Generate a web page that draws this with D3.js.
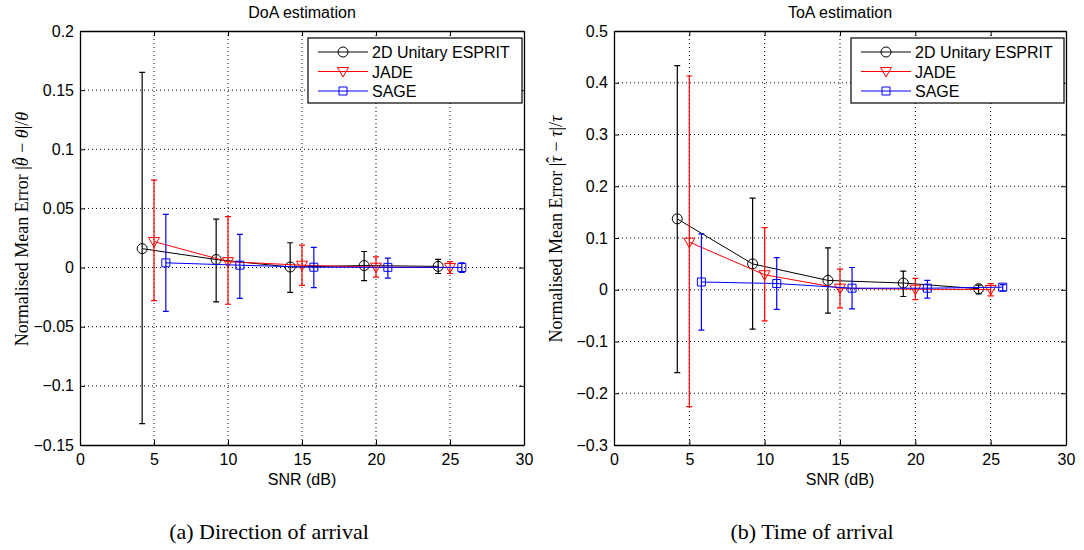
<!DOCTYPE html>
<html>
<head>
<meta charset="utf-8">
<script src="https://cdn.jsdelivr.net/npm/d3@7"></script>
<style>
  body { margin: 0; background: #fff; }
  text { font-family: "Liberation Sans", Arial, sans-serif; }
  .serif { font-family: "Liberation Serif", "DejaVu Serif", serif; }
</style>
</head>
<body>
<div id="chart"></div>
<script>
// series names and colours
const seriesNames = ["2D Unitary ESPRIT", "JADE", "SAGE"];
const seriesColors = ["#000000", "#ff0000", "#0000ff"];
const seriesMarkers = ["circle", "triangle", "square"];

// SNR positions (each method slightly offset in the original plot)
const snrEsprit = [4.2, 9.2, 14.2, 19.2, 24.2];
const snrJade = [5, 10, 15, 20, 25];
const snrSage = [5.8, 10.8, 15.8, 20.8, 25.8];

// DoA estimation: mean, lower and upper end of error bar
const doaEsprit = [0.016, 0.0068, 0.0005, 0.0017, 0.001];
const doaEspritLo = [-0.132, -0.029, -0.021, -0.011, -0.005];
const doaEspritHi = [0.165, 0.041, 0.021, 0.0136, 0.007];
const doaJade = [0.022, 0.005, 0.002, 0.0003, 0.0001];
const doaJadeLo = [-0.028, -0.031, -0.015, -0.008, -0.005];
const doaJadeHi = [0.074, 0.043, 0.019, 0.009, 0.005];
const doaSage = [0.004, 0.002, 0.0003, 0.0002, 0.0001];
const doaSageLo = [-0.037, -0.026, -0.017, -0.009, -0.004];
const doaSageHi = [0.045, 0.028, 0.017, 0.008, 0.004];

// ToA estimation
const toaEsprit = [0.137, 0.050, 0.018, 0.013, 0.002];
const toaEspritLo = [-0.16, -0.076, -0.045, -0.013, -0.008];
const toaEspritHi = [0.433, 0.177, 0.081, 0.036, 0.009];
const toaJade = [0.092, 0.029, 0.003, 0.001, 0.0005];
const toaJadeLo = [-0.226, -0.06, -0.035, -0.019, -0.012];
const toaJadeHi = [0.413, 0.12, 0.04, 0.022, 0.012];
const toaSage = [0.015, 0.012, 0.003, 0.003, 0.005];
const toaSageLo = [-0.078, -0.038, -0.037, -0.016, -0.002];
const toaSageHi = [0.108, 0.062, 0.043, 0.018, 0.01];

const xTicks = [0, 5, 10, 15, 20, 25, 30];
const doaTicks = [-0.15, -0.1, -0.05, 0, 0.05, 0.1, 0.15, 0.2];
const toaTicks = [-0.3, -0.2, -0.1, 0, 0.1, 0.2, 0.3, 0.4, 0.5];

const svg = d3.select("#chart").append("svg")
  .attr("width", 1084)
  .attr("height", 550);

function fmt(v) {
  if (Math.abs(v) < 1e-9) return "0";
  return (v < 0 ? "\u2212" : "") + String(+Math.abs(v).toFixed(2));
}

function drawPanel(opt) {
  const x = d3.scaleLinear().domain([0, 30]).range([opt.left, opt.right]);
  const y = d3.scaleLinear().domain(opt.yDomain).range([445, 31]);
  const g = svg.append("g");

  // grid
  g.selectAll(".gx").data(xTicks.slice(1, -1)).enter().append("line")
    .attr("x1", d => x(d)).attr("x2", d => x(d))
    .attr("y1", 31).attr("y2", 445)
    .attr("stroke", "#000").attr("stroke-width", 1)
    .attr("stroke-dasharray", "1,3");
  g.selectAll(".gy").data(opt.yTicks.slice(1, -1)).enter().append("line")
    .attr("x1", opt.left).attr("x2", opt.right)
    .attr("y1", d => y(d)).attr("y2", d => y(d))
    .attr("stroke", "#000").attr("stroke-width", 1)
    .attr("stroke-dasharray", "1,3");

  // axes (ticks inside, box on)
  const ax = d3.axisBottom(x).tickValues(xTicks).tickSizeInner(-5).tickSizeOuter(0).tickPadding(9).tickFormat(d3.format("d"));
  const axTop = d3.axisTop(x).tickValues(xTicks).tickSizeInner(-5).tickSizeOuter(0).tickFormat("");
  const ay = d3.axisLeft(y).tickValues(opt.yTicks).tickSizeInner(-5).tickSizeOuter(0).tickPadding(6).tickFormat(fmt);
  const ayR = d3.axisRight(y).tickValues(opt.yTicks).tickSizeInner(-5).tickSizeOuter(0).tickFormat("");

  [[ax, "translate(0,445)"], [axTop, "translate(0,31)"],
   [ay, `translate(${opt.left},0)`], [ayR, `translate(${opt.right},0)`]].forEach(([a, t]) => {
    const ag = g.append("g").attr("transform", t).call(a);
    ag.select(".domain").attr("stroke", "#000").attr("stroke-width", 1.3);
    ag.selectAll("text").attr("font-size", 16).attr("fill", "#000")
      .attr("font-family", "Liberation Sans, Arial, sans-serif");
  });

  // series
  opt.series.forEach((s, i) => {
    const col = seriesColors[i];
    const pts = s.x.map((xv, k) => ({ x: xv, m: s.m[k], lo: s.lo[k], hi: s.hi[k] }));
    const sg = g.append("g");
    sg.selectAll(".eb").data(pts).enter().append("path")
      .attr("d", d => `M${x(d.x)},${y(d.lo)}V${y(d.hi)}` +
        `M${x(d.x) - 3},${y(d.lo)}h6M${x(d.x) - 3},${y(d.hi)}h6`)
      .attr("stroke", col).attr("fill", "none").attr("stroke-width", 1.2);
    sg.append("path").datum(pts)
      .attr("d", d3.line().x(d => x(d.x)).y(d => y(d.m)))
      .attr("stroke", col).attr("fill", "none").attr("stroke-width", 1);
    sg.selectAll(".mk").data(pts).enter().append("path")
      .attr("transform", d => `translate(${x(d.x)},${y(d.m)})`)
      .attr("d", markerPath(seriesMarkers[i]))
      .attr("stroke", col).attr("fill", "none").attr("stroke-width", 1);
  });

  // legend
  const lg = g.append("g").attr("transform", `translate(${opt.legendX},38)`);
  lg.append("rect").attr("width", opt.right - 2 - opt.legendX).attr("height", 65)
    .attr("fill", "#fff").attr("stroke", "#000").attr("stroke-width", 1.2);
  seriesNames.forEach((name, i) => {
    const yy = 14 + i * 19.5;
    lg.append("line").attr("x1", 10).attr("x2", 60).attr("y1", yy).attr("y2", yy)
      .attr("stroke", seriesColors[i]).attr("stroke-width", 1);
    lg.append("path").attr("transform", `translate(35,${yy})`)
      .attr("d", markerPath(seriesMarkers[i]))
      .attr("stroke", seriesColors[i]).attr("fill", "none");
    lg.append("text").attr("x", 64).attr("y", yy + 6).attr("font-size", 16).text(name);
  });

  // titles and labels
  const cx = (opt.left + opt.right) / 2;
  g.append("text").attr("x", cx).attr("y", 18).attr("text-anchor", "middle")
    .attr("font-size", 16).text(opt.title);
  g.append("text").attr("x", cx).attr("y", 485).attr("text-anchor", "middle")
    .attr("font-size", 16).text("SNR (dB)");
  const yl = g.append("text").attr("class", "serif")
    .attr("transform", `translate(${opt.left - 52},229) rotate(-90)`)
    .attr("text-anchor", "middle").attr("font-size", 18);
  yl.append("tspan").text("Normalised Mean Error |");
  yl.append("tspan").attr("font-style", "italic").text(opt.sym);
  yl.append("tspan").attr("dx", -7).attr("dy", -3).text("\u02c6");
  yl.append("tspan").attr("dx", 1).attr("dy", 3).text(" \u2212 ");
  yl.append("tspan").attr("font-style", "italic").text(opt.sym);
  yl.append("tspan").text("|/");
  yl.append("tspan").attr("font-style", "italic").text(opt.sym);

  svg.append("text").attr("class", "serif").attr("x", opt.captionX).attr("y", 539)
    .attr("text-anchor", "middle").attr("font-size", 22).text(opt.caption);
}

function markerPath(type) {
  if (type === "circle") return d3.symbol(d3.symbolCircle, Math.PI * 25)();
  if (type === "triangle") return "M-5.5,-4L5.5,-4L0,5.5Z";
  return "M-4,-4H4V4H-4Z";
}

drawPanel({
  left: 80, right: 524, yDomain: [-0.15, 0.2], yTicks: doaTicks,
  title: "DoA estimation", sym: "\u03b8", legendX: 308,
  caption: "(a)  Direction of arrival", captionX: 269,
  series: [
    { x: snrEsprit, m: doaEsprit, lo: doaEspritLo, hi: doaEspritHi },
    { x: snrJade, m: doaJade, lo: doaJadeLo, hi: doaJadeHi },
    { x: snrSage, m: doaSage, lo: doaSageLo, hi: doaSageHi }
  ]
});

drawPanel({
  left: 614, right: 1066, yDomain: [-0.3, 0.5], yTicks: toaTicks,
  title: "ToA estimation", sym: "\u03c4", legendX: 851,
  caption: "(b)  Time of arrival", captionX: 812,
  series: [
    { x: snrEsprit, m: toaEsprit, lo: toaEspritLo, hi: toaEspritHi },
    { x: snrJade, m: toaJade, lo: toaJadeLo, hi: toaJadeHi },
    { x: snrSage, m: toaSage, lo: toaSageLo, hi: toaSageHi }
  ]
});
</script>
</body>
</html>
